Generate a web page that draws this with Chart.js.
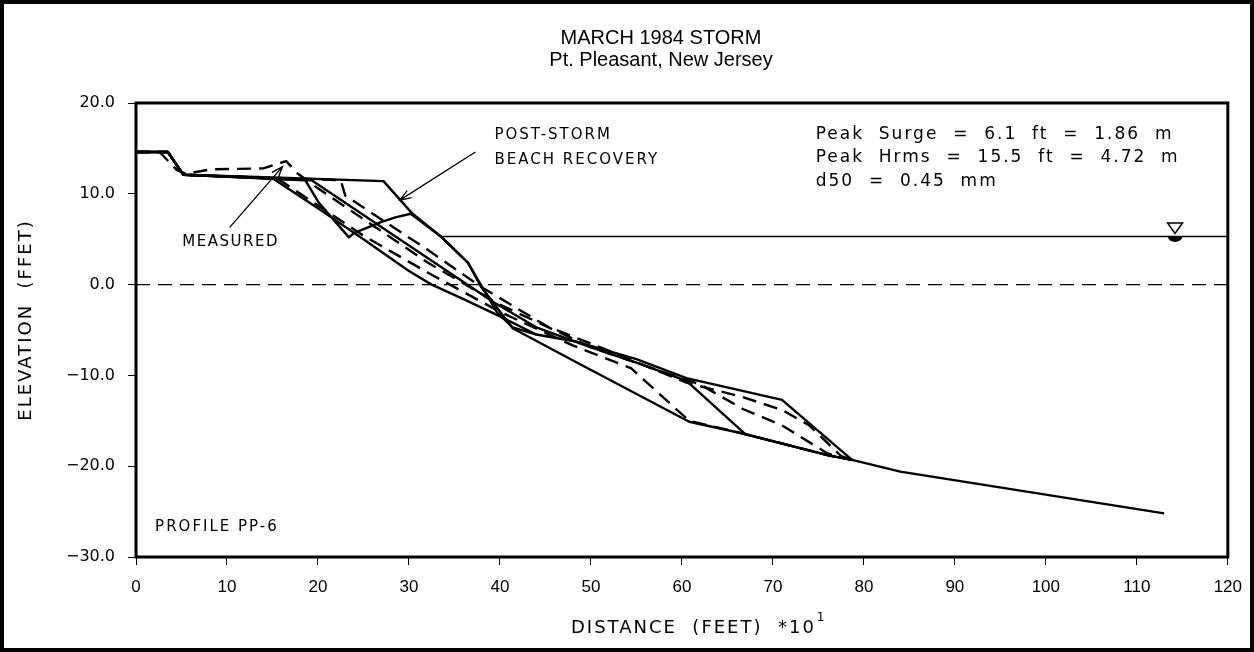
<!DOCTYPE html>
<html>
<head>
<meta charset="utf-8">
<title>March 1984 Storm - Pt. Pleasant, New Jersey</title>
<script src="https://cdn.jsdelivr.net/npm/chart.js@4.4.1/dist/chart.umd.min.js"></script>
<style>
  html, body { margin: 0; padding: 0; background: #fff; }
  canvas { display: block; }
</style>
</head>
<body>
<canvas id="profileChart" width="1254" height="652"></canvas>
<script>
/*global Chart, document*/
'use strict';

// ------------------------------------------------------- //
// Axis ticks
// ------------------------------------------------------ //
var distanceTicks = [0, 10, 20, 30, 40, 50, 60, 70, 80, 90, 100, 110, 120];
var elevationTicks = [-30, -20, -10, 0, 10, 20];

// ------------------------------------------------------- //
// Profiles (distance in ft*10, elevation in ft)
// ------------------------------------------------------ //

// pre-storm profile
var preStormDist = [0, 3.5, 5.2, 15, 27.2, 30.3, 33.5, 36.5, 37.9, 40.1, 41.4, 48.5, 60.8, 66.7, 76.1, 78.7, 84, 113];
var preStormElev = [14.6, 14.6, 12.1, 11.8, 11.4, 7.9, 5.3, 2.4, -0.2, -3.1, -4.8, -8.6, -15.1, -16.4, -18.8, -19.3, -20.6, -25.2];

// measured post-storm profile
var measuredDist = [0, 3.5, 5.2, 15, 20, 25, 30, 32.5, 36, 40, 44, 48.5, 55, 60.5, 71, 78.7];
var measuredElev = [14.6, 14.6, 12.1, 11.7, 8.4, 5.0, 1.5, 0, -1.6, -3.5, -5.5, -6.3, -8.2, -10.3, -12.7, -19.3];

// second solid profile
var solidBDist = [0, 3.5, 5.2, 19.3, 30, 39.4, 44, 50, 55, 60.5, 67, 76.1, 78.7];
var solidBElev = [14.6, 14.6, 12.1, 11.5, 4.3, -2.0, -4.7, -6.9, -8.6, -10.6, -16.5, -18.8, -19.3];

// post-storm beach recovery
var recoveryDist = [0, 3.5, 5.2, 18.6, 20.1, 23.4, 24, 27, 28.5, 30.2, 33.5, 36.5, 37.6, 39.7, 41.4, 44];
var recoveryElev = [14.6, 14.6, 12.1, 11.5, 9.0, 5.2, 5.7, 6.9, 7.4, 7.8, 5.3, 2.4, 0.5, -3.1, -4.7, -5.5];

// computed profiles (dashed)
var calcADist = [0, 3.5, 5.2, 15.5, 25, 32.1, 40, 48, 54.4, 60.8, 66.7, 76.1, 78.7];
var calcAElev = [14.6, 14.6, 12.1, 11.7, 5.4, 1.3, -3.0, -6.7, -9.2, -15.0, -16.4, -18.8, -19.3];

var calcBDist = [0, 3.5, 5.2, 22.5, 23, 32.1, 38, 45.2, 52, 60.5, 66.7, 71, 74, 77.5, 78.7];
var calcBElev = [14.6, 14.6, 12.1, 11.5, 9.8, 3.8, -0.3, -4.6, -7.3, -10.8, -12.4, -13.8, -15.5, -18.9, -19.3];

var calcCDist = [0, 2.6, 4.5, 5.5, 8.3, 14, 16.5, 17.8, 20, 32.1, 40, 50, 62, 66.7, 71, 76, 78.7];
var calcCElev = [14.6, 14.6, 12.6, 12.2, 12.7, 12.8, 13.6, 12.2, 10.6, 2.4, -2.2, -6.9, -11.0, -13.7, -15.5, -18.6, -19.3];

// still water level and datum
var surgeDist = [33.5, 120];
var surgeElev = [5.3, 5.3];
var datumDist = [0, 120];
var datumElev = [0, 0];
var surgeMarkerX = 114.2;

// ------------------------------------------------------- //
// Notes
// ------------------------------------------------------ //
var titleLines = ['MARCH 1984 STORM', 'Pt. Pleasant, New Jersey'];
var stormNotes = ['Peak  Surge  =  6.1  ft  =  1.86  m', 'Peak  Hrms  =  15.5  ft  =  4.72  m', 'd50  =  0.45  mm'];

function toPoints(xs, ys) {
    var pts = [];
    for (var i = 0; i < xs.length; i++) {
        pts.push({x: xs[i], y: ys[i]});
    }
    return pts;
}

function profile(label, xs, ys, dashed, width) {
    return {
        label: label,
        data: toPoints(xs, ys),
        showLine: true,
        fill: false,
        tension: 0,
        pointRadius: 0,
        borderColor: '#000',
        borderWidth: width || 2.4,
        borderDash: dashed ? [14, 8] : [],
        borderCapStyle: 'butt',
        borderJoinStyle: 'round'
    };
}

var FONT = '"DejaVu Sans", "Liberation Sans", sans-serif';

function arrow(ctx, x1, y1, x2, y2) {
    var ang = Math.atan2(y2 - y1, x2 - x1), head = 12, spread = 0.35;
    ctx.beginPath();
    ctx.moveTo(x1, y1);
    ctx.lineTo(x2, y2);
    ctx.moveTo(x2 - head * Math.cos(ang - spread), y2 - head * Math.sin(ang - spread));
    ctx.lineTo(x2, y2);
    ctx.lineTo(x2 - head * Math.cos(ang + spread), y2 - head * Math.sin(ang + spread));
    ctx.stroke();
}

// ------------------------------------------------------- //
// Frame, titles, labels and water level symbol
// ------------------------------------------------------ //
var profileNotes = {
    id: 'profileNotes',
    afterDraw: function (chart) {
        var ctx = chart.ctx, area = chart.chartArea;
        var xs = chart.scales.x, ys = chart.scales.y;
        var px = function (v) { return xs.getPixelForValue(v); };
        var py = function (v) { return ys.getPixelForValue(v); };
        var i;

        ctx.save();
        ctx.strokeStyle = '#000';
        ctx.fillStyle = '#000';

        // plot frame and outer border
        ctx.lineWidth = 3;
        ctx.strokeRect(area.left, area.top, area.width, area.height);
        ctx.lineWidth = 4;
        ctx.strokeRect(2, 2, chart.width - 4, chart.height - 4);

        // title
        ctx.textAlign = 'center';
        ctx.textBaseline = 'middle';
        ctx.font = '20px "Liberation Sans", sans-serif';
        ctx.fillText(titleLines[0], 661, 38);
        ctx.fillText(titleLines[1], 661, 60);

        // storm parameters
        ctx.textAlign = 'left';
        ctx.font = '17px ' + FONT;
        ctx.letterSpacing = '2px';
        for (i = 0; i < stormNotes.length; i++) {
            ctx.fillText(stormNotes[i], px(74.7), py(16.5 - i * 2.55));
        }

        // labels on the profiles
        ctx.font = '15px ' + FONT;
        ctx.letterSpacing = '2px';
        ctx.fillText('POST-STORM', px(39.4), py(16.5));
        ctx.fillText('BEACH RECOVERY', px(39.4), py(13.7));
        ctx.fillText('PROFILE PP-6', px(2.1), py(-26.7));
        ctx.letterSpacing = '1.5px';
        ctx.textAlign = 'center';
        ctx.fillText('MEASURED', px(10.4), py(4.65));

        ctx.lineWidth = 1.3;
        arrow(ctx, px(37.3), py(14.6), px(29.0), py(9.3));
        arrow(ctx, px(10.3), py(6.3), px(16.1), py(13.0));

        // still water level symbol
        var cx = px(surgeMarkerX), cy = py(surgeElev[0]);
        ctx.lineWidth = 1.5;
        ctx.beginPath();
        ctx.moveTo(cx - 7.5, cy - 13.5);
        ctx.lineTo(cx + 7.5, cy - 13.5);
        ctx.lineTo(cx, cy - 3);
        ctx.closePath();
        ctx.stroke();
        ctx.beginPath();
        ctx.ellipse(cx, cy + 0.5, 7, 5, 0, 0, Math.PI);
        ctx.fill();

        // axis titles
        ctx.font = '18px ' + FONT;
        ctx.letterSpacing = '2px';
        ctx.textAlign = 'left';
        var xTitle = 'DISTANCE  (FEET)  *10';
        var w = ctx.measureText(xTitle).width;
        var x0 = 571;
        ctx.fillText(xTitle, x0, 628);
        ctx.font = '12px ' + FONT;
        ctx.fillText('1', x0 + w + 1, 618);

        ctx.font = '18px ' + FONT;
        ctx.textAlign = 'center';
        ctx.translate(26, 320);
        ctx.rotate(-Math.PI / 2);
        ctx.fillText('ELEVATION  (FFET)', 0, 0);
        ctx.restore();
    }
};

// ------------------------------------------------------- //
// Chart
// ------------------------------------------------------ //
var PROFILECHART = document.getElementById('profileChart');
var myProfileChart = new Chart(PROFILECHART, {
    type: 'scatter',
    data: {
        datasets: [
            profile('Datum', datumDist, datumElev, true, 1.1),
            profile('Surge', surgeDist, surgeElev, false, 1.4),
            profile('Pre-storm', preStormDist, preStormElev, false),
            profile('Measured', measuredDist, measuredElev, false),
            profile('Solid B', solidBDist, solidBElev, false),
            profile('Recovery', recoveryDist, recoveryElev, false),
            profile('Calc A', calcADist, calcAElev, true),
            profile('Calc B', calcBDist, calcBElev, true),
            profile('Calc C', calcCDist, calcCElev, true)
        ]
    },
    options: {
        responsive: false,
        animation: false,
        layout: {
            padding: {left: 0, right: 19, top: 103, bottom: 0}
        },
        plugins: {
            legend: {display: false},
            tooltip: {enabled: false}
        },
        scales: {
            x: {
                type: 'linear',
                min: 0,
                max: 120,
                afterBuildTicks: function (scale) {
                    scale.ticks = distanceTicks.map(function (v) { return {value: v}; });
                },
                afterFit: function (scale) { scale.height = 95; },
                ticks: {
                    color: '#000',
                    padding: 12,
                    maxRotation: 0,
                    autoSkip: false,
                    font: {family: '"Liberation Sans", sans-serif', size: 17}
                },
                grid: {drawOnChartArea: false, tickLength: 8, color: '#000', lineWidth: 1},
                border: {display: false}
            },
            y: {
                type: 'linear',
                min: -30,
                max: 20,
                afterBuildTicks: function (scale) {
                    scale.ticks = elevationTicks.map(function (v) { return {value: v}; });
                },
                afterFit: function (scale) { scale.width = 136; },
                ticks: {
                    color: '#000',
                    padding: 13,
                    font: {family: '"DejaVu Sans", sans-serif', size: 16},
                    callback: function (v) {
                        return (v < 0 ? '\u2212' : '') + Math.abs(v).toFixed(1);
                    }
                },
                grid: {drawOnChartArea: false, tickLength: 8, color: '#000', lineWidth: 1},
                border: {display: false}
            }
        }
    },
    plugins: [profileNotes]
});
</script>
</body>
</html>
